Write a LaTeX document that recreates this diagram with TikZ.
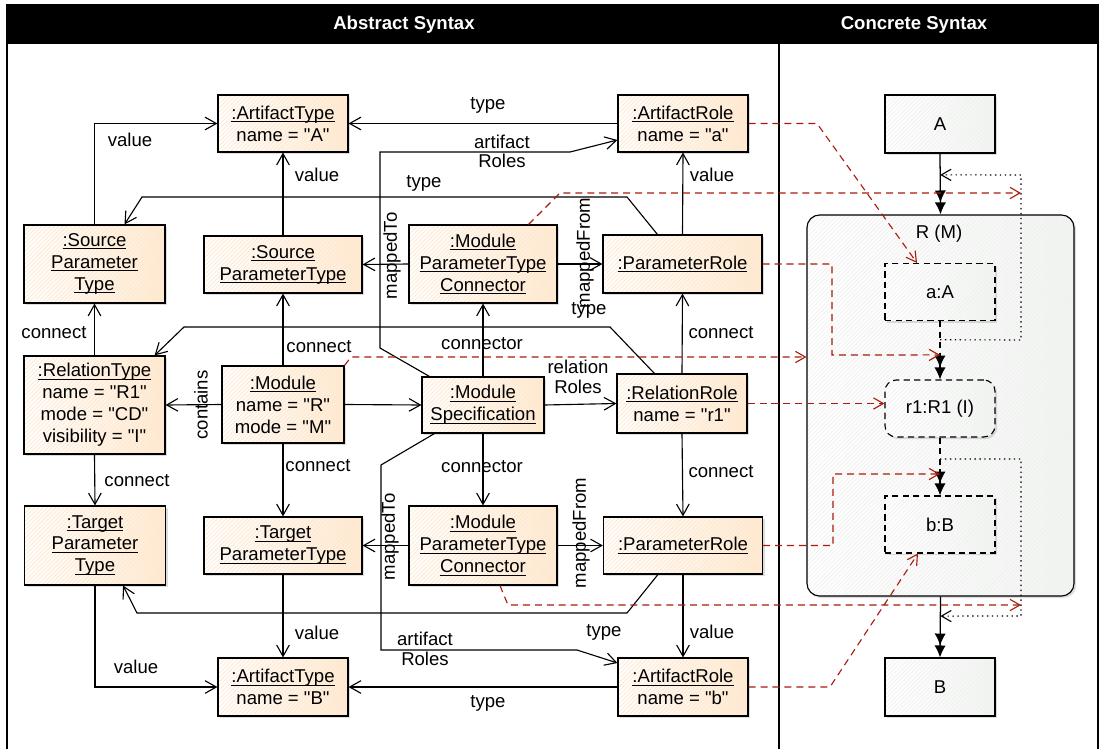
\documentclass[tikz,border=0pt]{standalone}
\usepackage{fontspec}
\setmainfont{Liberation Sans}[Ligatures=TeXOff]
\usetikzlibrary{arrows.meta}
\usetikzlibrary{patterns}
\usetikzlibrary{shadows}
\usetikzlibrary{calc}

\definecolor{objpeach}{RGB}{255,234,210}
\definecolor{objhatch}{RGB}{254,230,204}
\definecolor{syngray}{RGB}{242,244,242}
\definecolor{synhatch}{RGB}{238,240,238}
\definecolor{maplink}{RGB}{168,28,12}

% underlined object name, rule at a fixed depth
\newcommand{\uname}[1]{\setbox0\hbox{#1}\rlap{\rule[-1.9pt]{\wd0}{0.6pt}}\box0}

\begin{document}
\begin{tikzpicture}[x=0.025cm, y=-0.025cm, font=\fontsize{13.2}{15.6}\selectfont]
\tikzset{obj/.style = {draw, line width=.8pt, align=center, inner sep=0pt,
    left color=white, right color=objpeach,
    drop shadow={shadow xshift=1.5pt, shadow yshift=-1.5pt, opacity=.22, fill=black!60},
    postaction={pattern=north east lines, pattern color=objhatch},
    postaction={draw, line width=.8pt}}}
\tikzset{syn/.style = {line width=.8pt, align=center, inner sep=0pt,
    left color=white, right color=syngray,
    drop shadow={shadow xshift=1.5pt, shadow yshift=-1.5pt, opacity=.22, fill=black!60},
    postaction={pattern=north east lines, pattern color=synhatch}}}
\tikzset{synbox/.style = {syn, postaction={draw, line width=.8pt}}}
\tikzset{ghostbox/.style = {syn, postaction={draw, line width=.8pt, dash pattern=on 4.5pt off 3pt}}}
\tikzset{ghost/.style = {dash pattern=on 4.5pt off 3pt}}
\tikzset{lbl/.style = {inner sep=0pt, align=center, font=\fontsize{13.2}{14}\selectfont}}
\tikzset{head/.style = {text=white, inner sep=0pt, font=\fontsize{13.2}{15.6}\selectfont\bfseries}}
\tikzset{rel/.style = {-{Straight Barb[length=8pt,width=9pt]}, line width=.8pt}}
\tikzset{map/.style = {-{Straight Barb[length=7pt,width=8pt]}, draw=maplink, line width=.8pt, dash pattern=on 5pt off 3.5pt}}
\tikzset{flow/.style = {-{Latex[length=8.5pt,width=8pt]Latex[length=8.5pt,width=8pt]}, line width=.9pt}}
\tikzset{hop/.style = {-{Straight Barb[length=7pt,width=8pt]}, line width=.8pt, dash pattern=on 1pt off 2.5pt}}

\useasboundingbox (0,0) rectangle (1099,749);
\clip (0,0) rectangle (1099,749);

% frame and headers
\draw[line width=.8pt] (7,5) rectangle (1098,770);
\draw[line width=.8pt] (779,5) -- (779,770);
\fill[black] (7,5) rectangle (1098,44);
\node[head] (absHead) at (404,24.5) {Abstract Syntax};
\node[head] (conHead) at (914,24.5) {Concrete Syntax};

% abstract syntax
\node[obj, minimum width=3.25cm, minimum height=1.425cm] (artA) at (283,123.5) {\uname{:ArtifactType}\\name = "A"};
\node[obj, minimum width=3.525cm, minimum height=1.95cm] (srcL) at (94.5,264) {\uname{:Source}\\\uname{Parameter}\\\uname{Type}};
\node[obj, minimum width=3.525cm, minimum height=2.45cm] (relT) at (94.5,405) {\uname{:RelationType}\\name = "R1"\\mode = "CD"\\visibility = "I"};
\node[obj, minimum width=3.525cm, minimum height=1.975cm] (tgtL) at (95,545.5) {\uname{:Target}\\\uname{Parameter}\\\uname{Type}};
\node[obj, minimum width=3.95cm, minimum height=1.425cm] (srcM) at (283,264.5) {\uname{:Source}\\\uname{ParameterType}};
\node[obj, minimum width=3.05cm, minimum height=1.925cm] (mod) at (283,404.5) {\uname{:Module}\\name = "R"\\mode = "M"};
\node[obj, minimum width=3.95cm, minimum height=1.425cm] (tgtM) at (283,545.5) {\uname{:Target}\\\uname{ParameterType}};
\node[obj, minimum width=3.25cm, minimum height=1.45cm] (artB) at (283,687) {\uname{:ArtifactType}\\name = "B"};
\node[obj, minimum width=3.7cm, minimum height=1.95cm] (conT) at (483,264) {\uname{:Module}\\\uname{ParameterType}\\\uname{Connector}};
\node[obj, minimum width=3.05cm, minimum height=1.4cm] (spec) at (483,405) {\uname{:Module}\\\uname{Specification}};
\node[obj, minimum width=3.7cm, minimum height=1.975cm] (conB) at (483,545.5) {\uname{:Module}\\\uname{ParameterType}\\\uname{Connector}};
\node[obj, minimum width=3.25cm, minimum height=1.425cm] (roleA) at (683,123.5) {\uname{:ArtifactRole}\\name = "a"};
\node[obj, minimum width=3.975cm, minimum height=1.45cm] (parT) at (682.5,264) {\uname{:ParameterRole}};
\node[obj, minimum width=3.25cm, minimum height=1.475cm] (relR) at (682,403.5) {\uname{:RelationRole}\\name = "r1"};
\node[obj, minimum width=3.975cm, minimum height=1.425cm] (parB) at (683,545.5) {\uname{:ParameterRole}};
\node[obj, minimum width=3.25cm, minimum height=1.45cm] (roleB) at (683,687) {\uname{:ArtifactRole}\\name = "b"};

% concrete syntax
\node[synbox, rounded corners=9pt, minimum width=6.675cm, minimum height=9.525cm] (rm) at (940.5,405.5) {};
\node (rmName) at (939,234) {R (M)};
\node[synbox, minimum width=2.75cm, minimum height=1.45cm] (cA) at (940,124) {A};
\node[ghostbox, minimum width=2.75cm, minimum height=1.425cm] (ca) at (940,292) {a:A};
\node[ghostbox, rounded corners=8pt, minimum width=2.75cm, minimum height=1.425cm] (cr) at (940,408.5) {r1:R1 (I)};
\node[ghostbox, minimum width=2.75cm, minimum height=1.425cm] (cb) at (940,524.5) {b:B};
\node[synbox, minimum width=2.75cm, minimum height=1.45cm] (cB) at (940,687) {B};
\coordinate (hookA) at (1021,193);
\coordinate (hookB) at (1021,605);

% links between objects
\draw[rel] (srcL.north) |- (artA.west);
\draw[rel] (roleA.west) -- (artA.east);
\draw[rel] ($(spec.north west)+(8,0)$) -- (380,348) -- (380,152) -- (570,152) -- ($(roleA.west)+(0,16.5)$);
\draw[rel] ($(parT.north west)+(55,0)$) -- (627,197) -- (142,197) -- ($(srcL.north)+(30,0)$);
\draw[rel] (parT.north) -- (roleA.south);
\draw[rel] (srcM.north) -- (artA.south);
\draw[rel] (conT.west) -- (srcM.east);
\draw[rel] (conT.east) -- (parT.west);
\draw[rel] ($(relR.north west)+(38,0)$) -- (610,327) -- (184,327) -- ($(relT.north east)+(-11,0)$);
\draw[rel] (relT.north) -- (srcL.south);
\draw[rel] (mod.north) -- (srcM.south);
\draw[rel] (spec.north) -- (conT.south);
\draw[rel] (relR.north) -- (parT.south);
\draw[rel] (mod.west) -- (relT.east);
\draw[rel] (mod.east) -- (spec.west);
\draw[rel] (spec.east) -- (relR.west);
\draw[rel] (mod.south) -- (tgtM.north);
\draw[rel] (relT.south) -- (tgtL.north);
\draw[rel] (spec.south) -- (conB.north);
\draw[rel] (relR.south) -- (parB.north);
\draw[rel] (conB.west) -- (tgtM.east);
\draw[rel] (conB.east) -- (parB.west);
\draw[rel] ($(spec.south west)+(13,0)$) -- (381,465) -- (381,650) -- (577,650) -- ($(roleB.west)+(0,-24)$);
\draw[rel] ($(parB.south west)+(55,0)$) -- (627,613) -- (137,613) -- ($(tgtL.south east)+(-43,0)$);
\draw[rel] (parB.south) -- (roleB.north);
\draw[rel] (tgtM.south) -- (artB.north);
\draw[rel] (tgtL.south) |- (artB.west);
\draw[rel] (roleB.west) -- (artB.east);

% concrete nesting
\draw[flow] (cA.south) -- (rm.north);
\draw[flow, ghost] (ca.south) -- (cr.north);
\draw[flow, ghost] (cr.south) -- (cb.north);
\draw[flow] (rm.south) -- (cB.north);
\draw[hop] ($(ca.south)!0.32!(cr.north)$) -- (1021,340) -- (1021,175) -- ($(cA.south)!0.35!(rm.north)$);
\draw[hop] ($(cr.south)!0.37!(cb.north)$) -- (1021,459) -- (1021,616) -- ($(rm.south)!0.32!(cB.north)$);

% mapping to concrete syntax
\draw[map] (mod.north east) -- (351,357) -- ($(rm.west)+(0,-48.5)$);
\draw[map] (roleA.east) -- (817,123.5) -- ($(ca.north)+(-23,0)$);
\draw[map] ($(conT.north east)+(-29,0)$) -- (560,193) -- (hookA);
\draw[map] (parT.east) -- (832,264) -- (832,355) -- ($(ca.south)!0.58!(cr.north)$);
\draw[map] (relR.east) -- (relR.east -| cr.west);
\draw[map] (parB.east) -- (833,545.5) -- (833,474) -- ($(cr.south)!0.63!(cb.north)$);
\draw[map] ($(conB.south)+(17,0)$) -- (508,605) -- (hookB);
\draw[map] (roleB.east) -- (830,687) -- ($(cb.south)+(-22,0)$);

% role names
\foreach \nm/\x/\y/\txt in {lValSrc/130/140/value, lTypeA/488/105/type, lArtA/502/151.5/{artifact\\Roles},
    lTypeSrc/424/183/type, lValRoleA/712/175/value, lValA/317/175/value, lTypeRel/589/310/type,
    lConSrc/54/333/connect, lConSrcM/319/347/connect, lConnT/482/344/connector, lConParT/721/333/connect,
    lRelRoles/578/377/{relation\\Roles}, lConTgtM/318/466/connect, lConTgt/137/481/connect,
    lConnB/482/467/connector, lConParB/721/472/connect, lArtB/425/649/{artifact\\Roles},
    lTypeTgt/604/632/type, lValRoleB/712/632/value, lValB/317/633/value, lValTgt/136/667/value,
    lTypeB/488/703/type}
  {\node[lbl] (\nm) at (\x,\y) {\txt};}
\node[lbl, rotate=90] (lMapT) at (392,256) {mappedTo};
\node[lbl, rotate=90] (lMapFT) at (585,253) {mappedFrom};
\node[lbl, rotate=90] (lCont) at (201,405) {contains};
\node[lbl, rotate=90] (lMapB) at (390,537) {mappedTo};
\node[lbl, rotate=90] (lMapFB) at (581,533) {mappedFrom};
\end{tikzpicture}
\end{document}
